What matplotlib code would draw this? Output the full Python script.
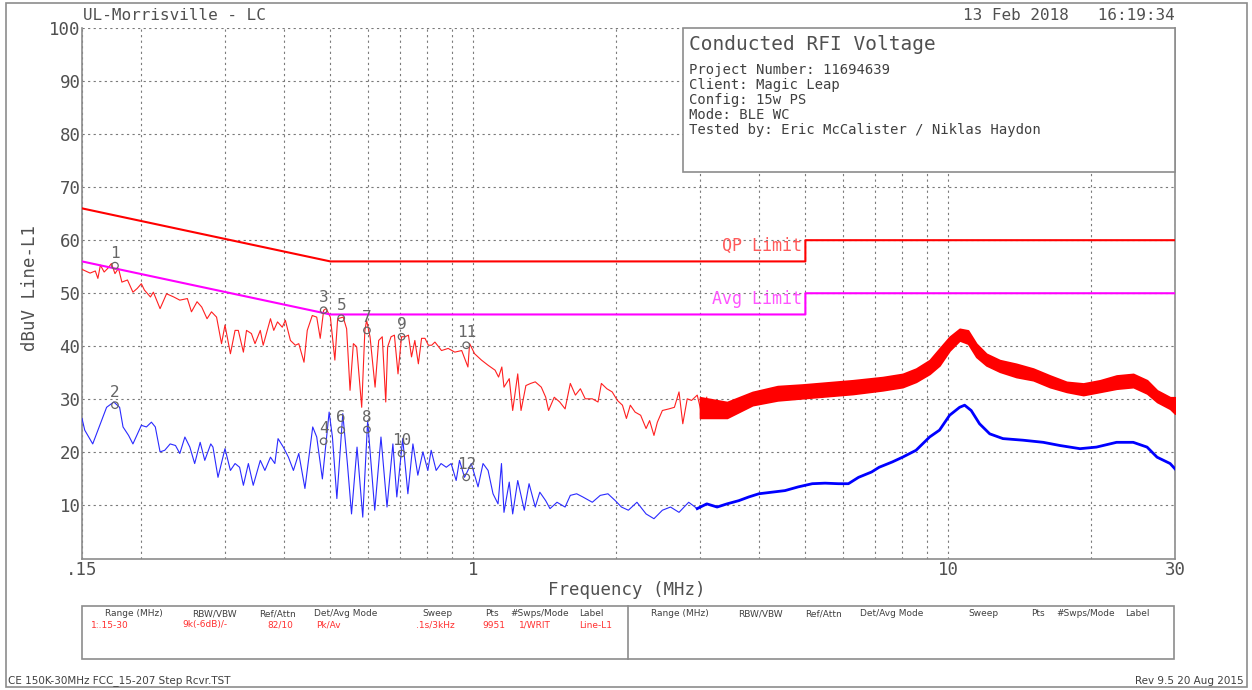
import matplotlib
matplotlib.use("Agg")
import matplotlib.pyplot as plt
from matplotlib.patches import Rectangle
from matplotlib.ticker import NullFormatter
import numpy as np

plt.rcParams['font.family'] = ['DejaVu Sans Mono', 'DejaVu Sans']

# ---- peak detector trace (red), 0.15 - 3.1 MHz
pk_freq = [0.150, 0.156, 0.160, 0.162, 0.164, 0.167, 0.170, 0.173, 0.176, 0.179,
           0.182, 0.187, 0.192, 0.196, 0.200, 0.203, 0.209, 0.212, 0.219, 0.226,
           0.234, 0.241, 0.250, 0.255, 0.262, 0.268, 0.275, 0.281, 0.288, 0.295,
           0.300, 0.308, 0.315, 0.320, 0.328, 0.333, 0.341, 0.347, 0.356, 0.361,
           0.374, 0.380, 0.387, 0.396, 0.402, 0.412, 0.422, 0.429, 0.440, 0.447,
           0.458, 0.468, 0.476, 0.484, 0.490, 0.500, 0.511, 0.518, 0.532, 0.541,
           0.550, 0.559, 0.568, 0.582, 0.591, 0.596, 0.606, 0.621, 0.632, 0.643,
           0.654, 0.660, 0.671, 0.682, 0.694, 0.706, 0.718, 0.730, 0.741, 0.753,
           0.766, 0.778, 0.791, 0.804, 0.817, 0.830, 0.857, 0.885, 0.914, 0.945,
           0.974, 0.982, 1.006, 1.040, 1.075, 1.111, 1.130, 1.148, 1.160, 1.19,
           1.21, 1.24, 1.26, 1.29, 1.32, 1.35, 1.39, 1.42, 1.44, 1.48,
           1.52, 1.56, 1.60, 1.64, 1.68, 1.72, 1.78, 1.83, 1.86, 1.91,
           1.96, 2.01, 2.06, 2.10, 2.14, 2.19, 2.25, 2.31, 2.35, 2.40,
           2.44, 2.50, 2.58, 2.65, 2.71, 2.76, 2.82, 2.88, 2.96, 3.03,
           3.10]
pk_level = [54.5, 53.8, 54.2, 52.8, 55.3, 54.0, 54.7, 55.6, 53.7, 54.7,
            52.1, 52.5, 50.2, 50.9, 51.8, 50.6, 49.3, 50.2, 47.1, 49.9,
            49.3, 48.7, 49.0, 46.5, 48.4, 47.4, 45.2, 46.5, 45.5, 40.5,
            44.0, 38.6, 43.0, 43.0, 38.9, 43.0, 42.4, 40.5, 43.0, 40.2,
            45.2, 43.0, 44.6, 43.6, 44.9, 41.1, 40.2, 40.5, 37.0, 43.0,
            45.8, 45.5, 41.5, 46.8, 47.1, 45.5, 37.4, 45.2, 45.5, 43.3,
            31.7, 40.5, 39.9, 28.5, 43.0, 44.9, 41.8, 32.3, 41.1, 41.8,
            29.5, 39.9, 41.8, 42.1, 34.8, 41.8, 41.8, 42.1, 38.0, 41.1,
            36.7, 41.5, 41.5, 40.2, 40.2, 40.8, 39.2, 39.6, 38.9, 39.2,
            36.1, 40.5, 38.6, 37.4, 36.4, 35.5, 34.2, 36.1, 32.3, 33.9,
            27.9, 34.8, 27.9, 32.6, 33.0, 33.3, 32.3, 30.4, 27.9, 30.4,
            29.5, 28.2, 33.0, 30.8, 32.0, 30.1, 30.1, 29.5, 33.0, 32.0,
            31.4, 29.8, 28.9, 26.4, 28.9, 27.6, 27.0, 24.5, 26.0, 23.2,
            25.7, 27.9, 28.2, 28.5, 31.4, 25.4, 30.1, 29.8, 30.8, 27.0,
            30.4]

# ---- peak trace above 3 MHz: dense noise band (upper / lower edge)
band_freq = [3.0, 3.42, 3.87, 4.37, 4.93, 5.57, 6.29, 7.27, 8.01, 8.55,
             9.13, 9.58, 10.06, 10.56, 11.0, 11.45, 12.02, 12.83, 13.9, 15.09,
             16.36, 17.74, 19.23, 20.86, 22.6, 24.5, 26.2, 27.5, 29.3, 30.0]
band_hi = [30.4, 29.5, 31.4, 32.5, 32.8, 33.2, 33.6, 34.2, 34.8, 35.8,
           37.4, 39.6, 41.8, 43.3, 43.0, 40.5, 38.6, 37.4, 36.7, 35.8,
           34.5, 33.3, 33.0, 33.6, 34.5, 34.8, 33.6, 31.7, 30.4, 30.4]
band_lo = [26.5, 26.5, 28.9, 29.8, 30.2, 30.6, 31.0, 31.7, 32.3, 33.3,
           34.8, 36.4, 39.2, 41.1, 40.5, 38.0, 36.4, 35.2, 34.2, 33.6,
           32.3, 31.4, 30.8, 31.4, 32.0, 32.3, 31.1, 29.5, 28.2, 27.3]

# ---- average detector trace (blue)
av_freq = [0.150, 0.152, 0.158, 0.163, 0.169, 0.175, 0.180, 0.183, 0.188, 0.192,
           0.200, 0.205, 0.210, 0.214, 0.219, 0.224, 0.230, 0.236, 0.241, 0.247,
           0.253, 0.259, 0.266, 0.272, 0.280, 0.283, 0.290, 0.300, 0.308, 0.315,
           0.322, 0.328, 0.336, 0.344, 0.356, 0.364, 0.374, 0.382, 0.388, 0.398,
           0.408, 0.418, 0.429, 0.442, 0.459, 0.468, 0.481, 0.497, 0.505, 0.516,
           0.531, 0.543, 0.554, 0.569, 0.585, 0.599, 0.620, 0.639, 0.658, 0.677,
           0.690, 0.710, 0.728, 0.746, 0.764, 0.783, 0.802, 0.815, 0.835, 0.855,
           0.877, 0.898, 0.920, 0.935, 0.958, 0.990, 1.023, 1.048, 1.074, 1.100,
           1.127, 1.146, 1.16, 1.19, 1.21, 1.24, 1.28, 1.31, 1.35, 1.38,
           1.42, 1.45, 1.50, 1.56, 1.60, 1.65, 1.70, 1.78, 1.85, 1.92,
           1.99, 2.05, 2.12, 2.21, 2.31, 2.40, 2.50, 2.60, 2.71, 2.84,
           2.96, 3.10, 3.26, 3.42, 3.62, 3.80, 3.99, 4.25, 4.53, 4.83,
           5.17, 5.50, 5.87, 6.16, 6.47, 6.89, 7.15, 7.62, 8.01, 8.55,
           9.13, 9.58, 10.06, 10.56, 10.82, 11.17, 11.63, 12.22, 13.03, 14.36,
           15.84, 17.17, 18.93, 20.5, 22.6, 24.5, 26.2, 27.5, 29.3, 30.0]
av_level = [26.4, 24.2, 21.6, 24.8, 28.5, 29.5, 28.5, 24.8, 23.2, 21.6,
            25.1, 24.8, 25.7, 24.8, 20.1, 20.4, 21.6, 21.3, 19.8, 22.9,
            21.0, 17.9, 21.9, 18.5, 21.6, 21.0, 15.3, 20.7, 16.6, 17.9,
            17.2, 13.8, 17.9, 13.8, 18.5, 16.6, 19.1, 17.9, 22.6, 21.0,
            19.1, 16.6, 19.8, 13.2, 24.8, 22.9, 15.0, 27.6, 22.9, 11.3,
            27.3, 17.9, 8.4, 21.0, 7.8, 26.0, 9.1, 22.9, 9.7, 21.6,
            11.6, 22.6, 12.2, 21.6, 15.7, 20.1, 16.6, 20.4, 16.6, 17.9,
            17.2, 17.9, 14.7, 18.5, 15.3, 17.9, 13.5, 17.9, 16.6, 12.2,
            10.3, 17.9, 8.7, 14.4, 8.4, 14.7, 9.1, 14.1, 9.7, 12.5,
            10.9, 9.4, 10.6, 9.7, 11.9, 12.2, 11.6, 10.6, 11.9, 12.2,
            10.9, 9.7, 9.1, 10.6, 8.4, 7.5, 9.1, 9.7, 8.7, 10.6,
            9.4, 10.3, 9.7, 10.3, 10.9, 11.6, 12.2, 12.5, 12.8, 13.5,
            14.1, 14.2, 14.1, 14.1, 15.3, 16.3, 17.2, 18.2, 19.1, 20.4,
            22.9, 24.2, 27.0, 28.5, 28.9, 27.9, 25.4, 23.5, 22.6, 22.3,
            21.9, 21.3, 20.7, 21.0, 21.9, 21.9, 21.0, 19.1, 17.9, 16.9]

# ---- FCC 15.207 limits
qp_freq = [0.15, 0.5, 5.0, 5.0, 30.0]
qp_level = [66, 56, 56, 60, 60]
avg_lim_freq = [0.15, 0.5, 5.0, 5.0, 30.0]
avg_lim_level = [56, 46, 46, 50, 50]

# ---- markers
mk_id = ['1', '2', '3', '4', '5', '6', '7', '8', '9', '10', '11', '12']
mk_freq = [0.176, 0.176, 0.484, 0.484, 0.527, 0.527, 0.597, 0.597, 0.706, 0.706, 0.966, 0.966]
mk_level = [55.2, 28.9, 46.8, 22.1, 45.3, 24.2, 43.0, 24.3, 41.8, 19.8, 40.2, 15.3]

x_ticks = [0.15, 1, 10, 30]
x_tick_labels = ['.15', '1', '10', '30']
grid_freqs = [0.2, 0.3, 0.4, 0.5, 0.6, 0.7, 0.8, 0.9, 1, 2, 3, 4, 5, 6, 7, 8, 9, 10, 20]
y_ticks = [10, 20, 30, 40, 50, 60, 70, 80, 90, 100]

info_lines = ['Project Number: 11694639', 'Client: Magic Leap', 'Config: 15w PS',
              'Mode: BLE WC', 'Tested by: Eric McCalister / Niklas Haydon']
tbl_heads = ['Range (MHz)', 'RBW/VBW', 'Ref/Attn', 'Det/Avg Mode', 'Sweep', 'Pts', '#Swps/Mode', 'Label']
tbl_vals = ['1:.15-30', '9k(-6dB)/-', '82/10', 'Pk/Av', '.1s/3kHz', '9951', '1/WRIT', 'Line-L1']
tbl_head_x = [134, 214, 278, 346, 437, 492, 540, 591]
tbl_val_x = [110, 205, 280, 328, 435, 494, 535, 596]

W, H = 1252, 690
GREY = '#505050'
LINE = '#8c8c8c'


def fx(x):
    return x / W


def fy(y):
    return 1 - y / H


fig = plt.figure(figsize=(W / 100, H / 100), dpi=100)
ax = fig.add_axes([fx(82), fy(558.5), fx(1175) - fx(82), fy(28) - fy(558.5)])
ax.set_xscale('log')
ax.set_xlim(0.15, 30)
ax.set_ylim(0, 100)

ax.set_xticks(x_ticks)
ax.set_xticklabels(x_tick_labels)
ax.set_xticks(grid_freqs, minor=True)
ax.xaxis.set_minor_formatter(NullFormatter())
ax.set_yticks(y_ticks)
ax.tick_params(which='both', length=0, labelsize=12.5, colors=GREY)
ax.tick_params(axis='x', pad=2)
ax.tick_params(axis='y', pad=1)
ax.grid(True, which='both', axis='x', color='#7a7a7a', lw=0.8, ls=(0, (2, 3)))
ax.grid(True, which='major', axis='y', color='#7a7a7a', lw=0.8, ls=(0, (2, 3)))
for s in ['left', 'bottom', 'right']:
    ax.spines[s].set_color(LINE)
    ax.spines[s].set_linewidth(1.2)
ax.spines['top'].set_visible(False)

# traces
ax.plot(pk_freq, pk_level, color='#ff2020', lw=0.8, zorder=3)
ax.fill_between(band_freq, band_lo, band_hi, color='#ff0000', lw=1.2, zorder=3)
av_f = np.array(av_freq)
av_l = np.array(av_level)
ax.plot(av_f, av_l, color='#2a2aff', lw=0.8, zorder=3)
hi = av_f >= 2.9
ax.plot(av_f[hi], av_l[hi], color='#0000ff', lw=2.0, zorder=3)

# limits
ax.plot(qp_freq, qp_level, color='#ff0000', lw=1.5, zorder=4)
ax.plot(avg_lim_freq, avg_lim_level, color='#ff00ff', lw=1.5, zorder=4)
ax.text(4.93, 59.0, 'QP Limit', color='#ff5a5a', fontsize=12, ha='right', va='center')
ax.text(4.93, 48.9, 'Avg Limit', color='#ff55ff', fontsize=12, ha='right', va='center')

# markers
ax.scatter(mk_freq, mk_level, s=22, facecolors='none', edgecolors='#666666', lw=0.9, zorder=5)
for lab, f, v in zip(mk_id, mk_freq, mk_level):
    ax.annotate(lab, (f, v), xytext=(0, 9), textcoords='offset points', ha='center',
                va='center', fontsize=11.5, color='#666666', zorder=5)

# outer frame
fig.add_artist(Rectangle((fx(6), fy(687)), fx(1247) - fx(6), fy(3) - fy(687), fill=False,
                         edgecolor=LINE, lw=1.2, transform=fig.transFigure))

# header
fig.text(fx(83), fy(15), 'UL-Morrisville - LC', fontsize=11.5, color=GREY, va='center')
fig.text(fx(1175), fy(15), '13 Feb 2018   16:19:34', fontsize=11.5, color=GREY,
         va='center', ha='right')

# info box
fig.add_artist(Rectangle((fx(683), fy(172)), fx(1175) - fx(683), fy(28) - fy(172),
                         facecolor='white', edgecolor=LINE, lw=1.2, transform=fig.transFigure,
                         zorder=6))
fig.text(fx(689), fy(44), 'Conducted RFI Voltage', fontsize=14, color=GREY, va='center', zorder=7)
for i, line in enumerate(info_lines):
    fig.text(fx(689), fy(70 + 15 * i), line, fontsize=10, color='#404040', va='center', zorder=7)

# axis labels
fig.text(fx(627), fy(590), 'Frequency (MHz)', fontsize=12.5, color=GREY, ha='center', va='center')
fig.text(fx(30), fy(288), 'dBuV Line-L1', fontsize=12.5, color=GREY, ha='center', va='center',
         rotation=90)

# settings table
fig.add_artist(Rectangle((fx(82), fy(659)), fx(1174) - fx(82), fy(606) - fy(659), fill=False,
                         edgecolor=LINE, lw=1.2, transform=fig.transFigure))
fig.add_artist(plt.Line2D([fx(628), fx(628)], [fy(606), fy(659)], color=LINE, lw=1.2,
                          transform=fig.transFigure))
for h, x in zip(tbl_heads, tbl_head_x):
    fig.text(fx(x), fy(614), h, fontsize=6.5, color='#404040', ha='center', va='center',
             family='DejaVu Sans')
    fig.text(fx(x + 546), fy(614), h, fontsize=6.5, color='#404040', ha='center', va='center',
             family='DejaVu Sans')
for v, x in zip(tbl_vals, tbl_val_x):
    fig.text(fx(x), fy(625), v, fontsize=6.5, color='#ff3030', ha='center', va='center',
             family='DejaVu Sans')

# footer
fig.text(fx(8), fy(681), 'CE 150K-30MHz FCC_15-207 Step Rcvr.TST', fontsize=7.5, color='#404040',
         va='center', family='DejaVu Sans')
fig.text(fx(1244), fy(681), 'Rev 9.5 20 Aug 2015', fontsize=7.5, color='#404040', va='center',
         ha='right', family='DejaVu Sans')

fig.savefig('out.png', dpi=100)
